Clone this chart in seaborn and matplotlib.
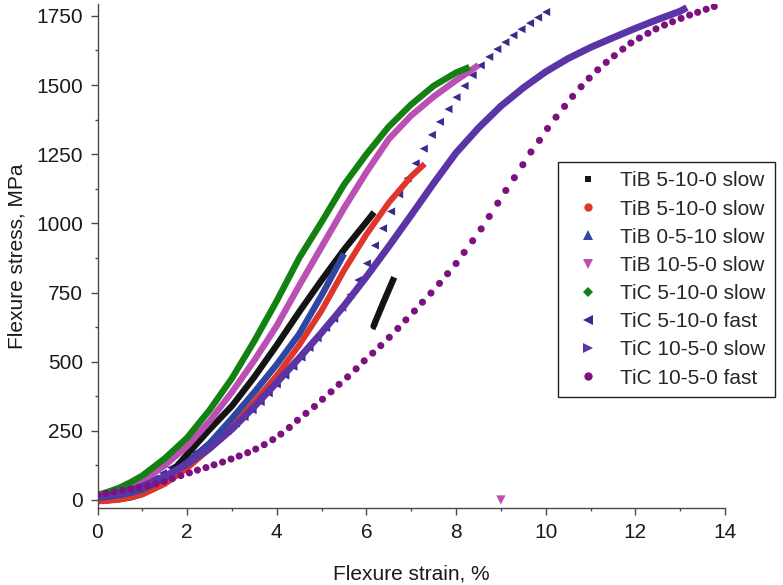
import matplotlib
matplotlib.use("Agg")
import matplotlib.pyplot as plt
from matplotlib.lines import Line2D
from matplotlib.ticker import MultipleLocator
import seaborn as sns

# ---- flexure test data (strain %, stress MPa) ----
tib_5100_a_x = [0, 0.25, 0.5, 0.75, 1, 1.25, 1.5, 2, 2.5, 3, 3.5, 4, 4.5, 5, 5.5, 6, 6.17]
tib_5100_a_y = [0, 0, 3, 10, 22, 42, 70, 165, 255, 340, 445, 560, 680, 795, 905, 1005, 1040]
tib_5100_a_tail_x = [6.62, 6.5, 6.38, 6.27, 6.2, 6.16, 6.22]
tib_5100_a_tail_y = [805, 760, 715, 672, 645, 628, 625]

tib_5100_b_x = [0, 0.25, 0.5, 0.75, 1, 1.5, 2, 2.5, 3, 3.5, 4, 4.5, 5, 5.5, 6, 6.5, 7, 7.3]
tib_5100_b_y = [-5, -3, 2, 10, 20, 58, 115, 185, 265, 355, 450, 560, 685, 830, 960, 1075, 1170, 1215]

tib_0510_x = [0, 0.25, 0.5, 0.75, 1, 1.5, 2, 2.5, 3, 3.5, 4, 4.5, 5, 5.5]
tib_0510_y = [8, 12, 18, 26, 38, 78, 135, 205, 295, 390, 490, 600, 740, 890]

tib_1050_x = [0, 0.25, 0.5, 0.75, 1, 1.5, 2, 2.5, 3, 3.5, 4, 4.5, 5, 5.5, 6, 6.5, 7, 7.5, 8, 8.5]
tib_1050_y = [12, 22, 35, 50, 70, 125, 195, 285, 390, 505, 630, 775, 915, 1055, 1185, 1305, 1390, 1458, 1517, 1572]
tib_1050_break_x = [9.0]
tib_1050_break_y = [0]

tic_5100_slow_x = [0, 0.25, 0.5, 0.75, 1, 1.5, 2, 2.5, 3, 3.5, 4, 4.5, 5, 5.5, 6, 6.5, 7, 7.5, 8, 8.3]
tic_5100_slow_y = [18, 30, 45, 65, 88, 150, 225, 325, 440, 575, 720, 875, 1005, 1140, 1250, 1350, 1430, 1497, 1545, 1565]

tic_5100_fast_x = [0.00, 0.18, 0.36, 0.55, 0.73, 0.91, 1.09, 1.27, 1.46, 1.64, 1.82, 2.00, 2.18, 2.37,
                   2.55, 2.73, 2.91, 3.09, 3.28, 3.46, 3.64, 3.82, 4.00, 4.19, 4.37, 4.55, 4.73, 4.91,
                   5.10, 5.28, 5.46, 5.64, 5.82, 6.01, 6.19, 6.37, 6.55, 6.73, 6.92, 7.10, 7.28, 7.46,
                   7.64, 7.83, 8.01, 8.19, 8.37, 8.55, 8.74, 8.92, 9.10, 9.28, 9.46, 9.65, 9.83, 10.01]
tic_5100_fast_y = [8, 12, 18, 26, 36, 48, 62, 78, 97, 117, 136, 154, 171, 189,
                   207, 227, 251, 277, 300, 325, 354, 386, 418, 450, 482, 515, 550, 585,
                   622, 655, 695, 742, 795, 855, 920, 982, 1043, 1105, 1163, 1217, 1270, 1320,
                   1367, 1413, 1456, 1497, 1536, 1571, 1602, 1630, 1655, 1680, 1702, 1724, 1744, 1764]

tic_1050_slow_x = [0, 0.25, 0.5, 0.75, 1, 1.5, 2, 2.5, 3, 3.5, 4, 4.5, 5, 5.5, 6, 6.5, 7, 7.5,
                   8, 8.5, 9, 9.5, 10, 10.5, 11, 11.5, 12, 12.5, 13, 13.15]
tic_1050_slow_y = [12, 18, 25, 36, 50, 85, 130, 186, 256, 338, 425, 513, 605, 702, 807, 917, 1030, 1145,
                   1255, 1345, 1424, 1490, 1548, 1596, 1636, 1671, 1705, 1737, 1767, 1780]

tic_1050_fast_x = [0.00, 0.19, 0.37, 0.56, 0.74, 0.93, 1.12, 1.30, 1.49, 1.67, 1.86, 2.05, 2.23, 2.42,
                   2.60, 2.79, 2.98, 3.16, 3.35, 3.53, 3.72, 3.91, 4.09, 4.28, 4.46, 4.65, 4.84, 5.02,
                   5.21, 5.39, 5.58, 5.77, 5.95, 6.14, 6.32, 6.51, 6.70, 6.88, 7.07, 7.25, 7.44, 7.63,
                   7.81, 8.00, 8.18, 8.37, 8.56, 8.74, 8.93, 9.11, 9.30, 9.49, 9.67, 9.86, 10.04, 10.23,
                   10.42, 10.60, 10.79, 10.97, 11.16, 11.35, 11.53, 11.72, 11.90, 12.09, 12.28, 12.46,
                   12.65, 12.83, 13.02, 13.21, 13.39, 13.58, 13.76]
tic_1050_fast_y = [18, 24, 30, 35, 40, 45, 51, 58, 67, 77, 88, 98, 108, 117,
                   127, 137, 148, 159, 171, 184, 200, 218, 238, 262, 288, 313, 338, 364,
                   391, 418, 445, 474, 503, 531, 558, 588, 620, 651, 683, 715, 748, 783,
                   818, 855, 895, 937, 980, 1025, 1073, 1119, 1165, 1212, 1258, 1300, 1343, 1384,
                   1423, 1459, 1494, 1525, 1555, 1582, 1606, 1630, 1652, 1670, 1687, 1703,
                   1717, 1729, 1741, 1753, 1763, 1774, 1784]

labels = ["TiB 5-10-0 slow", "TiB 5-10-0 slow", "TiB 0-5-10 slow", "TiB 10-5-0 slow",
          "TiC 5-10-0 slow", "TiC 5-10-0 fast", "TiC 10-5-0 slow", "TiC 10-5-0 fast"]
colors = ["#141414", "#e0352a", "#2f47a2", "#bb4fb3",
          "#128112", "#3b2b8e", "#5b34a6", "#7e1180"]
markers = ["s", "o", "^", "v", "D", "<", ">", "o"]
legend_ms = [5, 6, 6.5, 6.5, 5.5, 6.5, 6.5, 6]

sns.set_theme(style="ticks")
plt.rcParams["font.family"] = ["Liberation Sans", "DejaVu Sans"]

fig = plt.figure(figsize=(7.83, 5.85), dpi=100)
ax = fig.add_axes([97.5 / 783, 1 - 508 / 585, (725 - 97.5) / 783, (508 - 4) / 585])

band = dict(ax=ax, sort=False, estimator=None, legend=False, solid_capstyle="butt")

sns.lineplot(x=tib_5100_a_x, y=tib_5100_a_y, color=colors[0], linewidth=4.6, **band)
sns.lineplot(x=tib_5100_a_tail_x, y=tib_5100_a_tail_y, color=colors[0], linewidth=4.6, **band)
sns.lineplot(x=tib_5100_b_x, y=tib_5100_b_y, color=colors[1], linewidth=4.3, **band)
sns.lineplot(x=tib_0510_x, y=tib_0510_y, color=colors[2], linewidth=4.6, **band)
sns.lineplot(x=tib_1050_x, y=tib_1050_y, color=colors[3], linewidth=4.6, **band)
sns.scatterplot(x=tib_1050_break_x, y=tib_1050_break_y, ax=ax, marker="v", s=45,
                color=colors[3], edgecolor="none", legend=False, clip_on=False, zorder=5)
sns.lineplot(x=tic_5100_slow_x, y=tic_5100_slow_y, color=colors[4], linewidth=4.6, **band)
sns.scatterplot(x=tic_5100_fast_x, y=tic_5100_fast_y, ax=ax, marker="<", s=34,
                color=colors[5], edgecolor="none", legend=False)
sns.lineplot(x=tic_1050_slow_x, y=tic_1050_slow_y, color=colors[6], linewidth=5.0, **band)
sns.scatterplot(x=tic_1050_fast_x, y=tic_1050_fast_y, ax=ax, marker="o", s=26,
                color=colors[7], edgecolor="none", legend=False, zorder=4)

ax.set_xlim(0, 14)
ax.set_ylim(-29, 1793)
ax.xaxis.set_major_locator(MultipleLocator(2))
ax.xaxis.set_minor_locator(MultipleLocator(1))
ax.yaxis.set_major_locator(MultipleLocator(250))
ax.yaxis.set_minor_locator(MultipleLocator(125))

spine_col = "#4a4a4a"
for side in ("top", "right"):
    ax.spines[side].set_visible(False)
for side in ("left", "bottom"):
    ax.spines[side].set_color(spine_col)
    ax.spines[side].set_linewidth(1.0)
ax.tick_params(which="major", direction="out", length=5, width=1.0, color=spine_col,
               labelsize=15, labelcolor="#1a1a1a", pad=5.5)
ax.tick_params(which="minor", direction="out", length=2.5, width=1.0, color=spine_col)

ax.set_xlabel("Flexure strain, %", fontsize=15, color="#1a1a1a")
ax.set_ylabel("Flexure stress, MPa", fontsize=15, color="#1a1a1a")
ax.xaxis.set_label_coords(0.5, -0.113)
ax.yaxis.set_label_coords(-0.113, 0.5)

handles = [Line2D([], [], linestyle="none", marker=m, color=c, markersize=ms, markeredgewidth=0)
           for m, c, ms in zip(markers, colors, legend_ms)]
leg = ax.legend(handles, labels, loc="upper left", bbox_to_anchor=(558 / 783, 1 - 162 / 585),
                bbox_transform=fig.transFigure, borderaxespad=0, fontsize=15, frameon=True,
                fancybox=False, framealpha=1, edgecolor="#222222", handlelength=1.98,
                handletextpad=0.55, labelspacing=0.44, borderpad=0.45)
leg.get_frame().set_linewidth(1.0)

fig.savefig("out.png", dpi=100)
